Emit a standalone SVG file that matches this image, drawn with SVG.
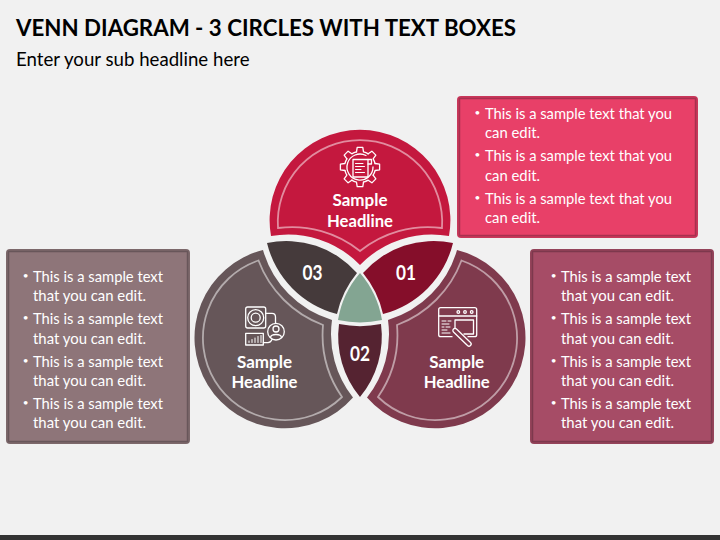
<svg xmlns="http://www.w3.org/2000/svg" xmlns:xlink="http://www.w3.org/1999/xlink" width="720" height="540" viewBox="0 0 720 540">
<style>
text{font-family:"Lato","Carlito","Liberation Sans",sans-serif;fill:#fff}
.t{font-size:15px}
.b{font-size:10px}
.h{font-size:17px;font-weight:700;text-anchor:middle}
.n{font-size:20px;font-weight:700;text-anchor:middle}
.inner{fill:none;stroke:#fff;stroke-opacity:.5;stroke-width:1.8}
.ic{fill:none;stroke:#fff;stroke-width:1.3;stroke-linejoin:round;stroke-linecap:round}
.ic2{fill:none;stroke:#fff;stroke-width:1;stroke-linecap:round}
</style>
<defs>
<path id="tooth" d="M-3.5-15.1L-2.8-19.6H2.8L3.5-15.1A15.5 15.5 0 0 1 8.2-13.1"/>
</defs>
<rect width="720" height="540" fill="#f1f1f1"/>
<rect y="535" width="720" height="5" fill="#333"/>
<text x="16" y="36" font-size="22.5" font-weight="700" style="fill:#000" textLength="500" lengthAdjust="spacingAndGlyphs">VENN DIAGRAM - 3 CIRCLES WITH TEXT BOXES</text>
<text x="16" y="66" font-size="18.5" style="fill:#000" textLength="233.5" lengthAdjust="spacingAndGlyphs">Enter your sub headline here</text>

<g id="box-top">
<rect x="457" y="96" width="241" height="142" rx="4" fill="#c9375a"/>
<rect x="459.500" y="98.500" width="236" height="137" fill="#e84068" stroke="#a8304f" stroke-width="1.500"/>
<text class="b" x="474.400" y="116">•</text><text class="t" x="485" y="119" textLength="187" lengthAdjust="spacingAndGlyphs">This is a sample text that you</text>
<text class="t" x="485" y="138" textLength="55" lengthAdjust="spacingAndGlyphs">can edit.</text>
<text class="b" x="474.400" y="158">•</text><text class="t" x="485" y="161" textLength="187" lengthAdjust="spacingAndGlyphs">This is a sample text that you</text>
<text class="t" x="485" y="181" textLength="55" lengthAdjust="spacingAndGlyphs">can edit.</text>
<text class="b" x="474.400" y="201">•</text><text class="t" x="485" y="204" textLength="187" lengthAdjust="spacingAndGlyphs">This is a sample text that you</text>
<text class="t" x="485" y="223" textLength="55" lengthAdjust="spacingAndGlyphs">can edit.</text>
</g>

<g id="box-left">
<rect x="6" y="249" width="184" height="195" rx="4" fill="#7c686b"/>
<rect x="8.500" y="251.500" width="179" height="190" fill="#8e7579" stroke="#68565a" stroke-width="1.500"/>
<text class="b" x="22.700" y="279">•</text><text class="t" x="33" y="282" textLength="130" lengthAdjust="spacingAndGlyphs">This is a sample text</text>
<text class="t" x="33" y="301" textLength="113" lengthAdjust="spacingAndGlyphs">that you can edit.</text>
<text class="b" x="22.700" y="321">•</text><text class="t" x="33" y="324" textLength="130" lengthAdjust="spacingAndGlyphs">This is a sample text</text>
<text class="t" x="33" y="344" textLength="113" lengthAdjust="spacingAndGlyphs">that you can edit.</text>
<text class="b" x="22.700" y="364">•</text><text class="t" x="33" y="367" textLength="130" lengthAdjust="spacingAndGlyphs">This is a sample text</text>
<text class="t" x="33" y="386" textLength="113" lengthAdjust="spacingAndGlyphs">that you can edit.</text>
<text class="b" x="22.700" y="406">•</text><text class="t" x="33" y="409" textLength="130" lengthAdjust="spacingAndGlyphs">This is a sample text</text>
<text class="t" x="33" y="428" textLength="113" lengthAdjust="spacingAndGlyphs">that you can edit.</text>
</g>

<g id="box-right">
<rect x="530" y="249" width="184" height="195" rx="4" fill="#94435a"/>
<rect x="532.500" y="251.500" width="179" height="190" fill="#a64c66" stroke="#7d384d" stroke-width="1.500"/>
<text class="b" x="550.700" y="279">•</text><text class="t" x="561" y="282" textLength="130" lengthAdjust="spacingAndGlyphs">This is a sample text</text>
<text class="t" x="561" y="301" textLength="113" lengthAdjust="spacingAndGlyphs">that you can edit.</text>
<text class="b" x="550.700" y="321">•</text><text class="t" x="561" y="324" textLength="130" lengthAdjust="spacingAndGlyphs">This is a sample text</text>
<text class="t" x="561" y="344" textLength="113" lengthAdjust="spacingAndGlyphs">that you can edit.</text>
<text class="b" x="550.700" y="364">•</text><text class="t" x="561" y="367" textLength="130" lengthAdjust="spacingAndGlyphs">This is a sample text</text>
<text class="t" x="561" y="386" textLength="113" lengthAdjust="spacingAndGlyphs">that you can edit.</text>
<text class="b" x="550.700" y="406">•</text><text class="t" x="561" y="409" textLength="130" lengthAdjust="spacingAndGlyphs">This is a sample text</text>
<text class="t" x="561" y="428" textLength="113" lengthAdjust="spacingAndGlyphs">that you can edit.</text>
</g>

<g id="circle-top">
<path d="M271 236A90.400 90.400 0 1 1 449 236A100 100 0 0 0 360 265A100 100 0 0 0 271 236Z" fill="#c4183e"/>
<path class="inner" d="M278 228A82.200 82.200 0 1 1 442 228A108 108 0 0 0 360 251A108 108 0 0 0 278 228Z"/>
<g class="ic" transform="translate(360 167)">
<use xlink:href="#tooth" href="#tooth"/>
<use xlink:href="#tooth" href="#tooth" transform="rotate(45)"/>
<use xlink:href="#tooth" href="#tooth" transform="rotate(90)"/>
<use xlink:href="#tooth" href="#tooth" transform="rotate(135)"/>
<use xlink:href="#tooth" href="#tooth" transform="rotate(180)"/>
<use xlink:href="#tooth" href="#tooth" transform="rotate(225)"/>
<use xlink:href="#tooth" href="#tooth" transform="rotate(270)"/>
<use xlink:href="#tooth" href="#tooth" transform="rotate(315)"/>
<path d="M6-11.500A13 13 0 1 0 13 0"/>
<path d="M-7-7.500H8V10H-7Z"/>
<path d="M8-7.500H11.500V-3H8"/>
<path class="ic2" d="M-4.500-3.500H3M-4.500-.500H4.500M-4.500 2.500H1M-4.500 5.500H4.500"/>
</g>
<text class="h" x="360" y="206" textLength="55" lengthAdjust="spacingAndGlyphs">Sample</text>
<text class="h" x="360" y="227" textLength="66" lengthAdjust="spacingAndGlyphs">Headline</text>
</g>

<g id="circle-left">
<path d="M263 250A102 102 0 0 0 332 320A102 102 0 0 0 353 397.500A90.500 90.500 0 1 1 263 250Z" fill="#665659"/>
<path class="inner" d="M258.500 260.500A110 110 0 0 0 323 325A110 110 0 0 0 342 397A82 82 0 1 1 258.500 260.500Z"/>
<g class="ic">
<rect x="245.700" y="307" width="20" height="21" rx="2"/>
<circle cx="255.700" cy="317.700" r="8"/>
<circle cx="255.700" cy="317.700" r="4.500"/>
<path d="M265.700 313.300H272Q275.500 313.300 275.500 317V323"/>
<circle cx="276" cy="331.700" r="8.300"/>
<circle cx="276" cy="329" r="3"/>
<path d="M270.500 337.500C271 333.500 281 333.500 281.500 337.500"/>
<rect x="245.700" y="333.300" width="17.600" height="11.700"/>
<path d="M263.300 342.700H268Q270.500 342.700 272 339.500"/>
<path class="ic2" d="M249 342.500V341M252 342.500V339.500M255 342.500V338M258 342.500V336.500M261 342.500V335.500"/>
</g>
<text class="h" x="264.500" y="368" textLength="55" lengthAdjust="spacingAndGlyphs">Sample</text>
<text class="h" x="264.500" y="388" textLength="66" lengthAdjust="spacingAndGlyphs">Headline</text>
</g>

<g id="circle-right">
<path d="M457 250A102 102 0 0 1 388 320A102 102 0 0 1 367 397.500A90.500 90.500 0 1 0 457 250Z" fill="#7f3a4d"/>
<path class="inner" d="M461.500 260.500A110 110 0 0 1 397 325A110 110 0 0 1 378 397A82 82 0 1 0 461.500 260.500Z"/>
<g class="ic">
<path d="M452 336.700H440.700A2 2 0 0 1 438.700 334.700V309.700A2 2 0 0 1 440.700 307.700H474.700A2 2 0 0 1 476.700 309.700V334.700A2 2 0 0 1 474.700 336.700H468"/>
<path d="M438.700 316H476.700"/>
<circle cx="458.300" cy="312" r="1.300"/><circle cx="465" cy="312" r="1.300"/><circle cx="471.700" cy="312" r="1.300"/>
<path d="M455 328V320H473.500V334H464"/>
<path d="M456.500 329L470.500 342.500A2 2 0 0 1 467.500 345.500L453.500 332A2 2 0 0 1 456.500 329Z"/>
<path class="ic2" d="M442 321H446M448 321H451M442 324H449M442 327H444M446 327H450M442 330H447M442 333H450"/>
</g>
<text class="h" x="456.700" y="368" textLength="55" lengthAdjust="spacingAndGlyphs">Sample</text>
<text class="h" x="456.700" y="388" textLength="66" lengthAdjust="spacingAndGlyphs">Headline</text>
</g>

<g id="lens-03">
<path d="M267 243A94 94 0 0 1 357 273A98 98 0 0 0 337 314A97 97 0 0 1 267 243Z" fill="#453a3b"/>
<text class="n" x="312.500" y="280" textLength="20" lengthAdjust="spacingAndGlyphs">03</text>
</g>
<g id="lens-01">
<path d="M453 243A94 94 0 0 0 363 273A98 98 0 0 1 383 314A97 97 0 0 0 453 243Z" fill="#850e2a"/>
<text class="n" x="406" y="280" textLength="20" lengthAdjust="spacingAndGlyphs">01</text>
</g>
<g id="lens-02">
<path d="M339 324A104 104 0 0 0 381 324A95 95 0 0 1 360 397A95 95 0 0 1 339 324Z" fill="#552331"/>
<text class="n" x="360" y="361" textLength="20" lengthAdjust="spacingAndGlyphs">02</text>
</g>
<g id="center">
<path d="M360 273A96 96 0 0 0 338 320A102 102 0 0 0 382 320A96 96 0 0 0 360 273Z" fill="#83a592"/>
</g>
</svg>
